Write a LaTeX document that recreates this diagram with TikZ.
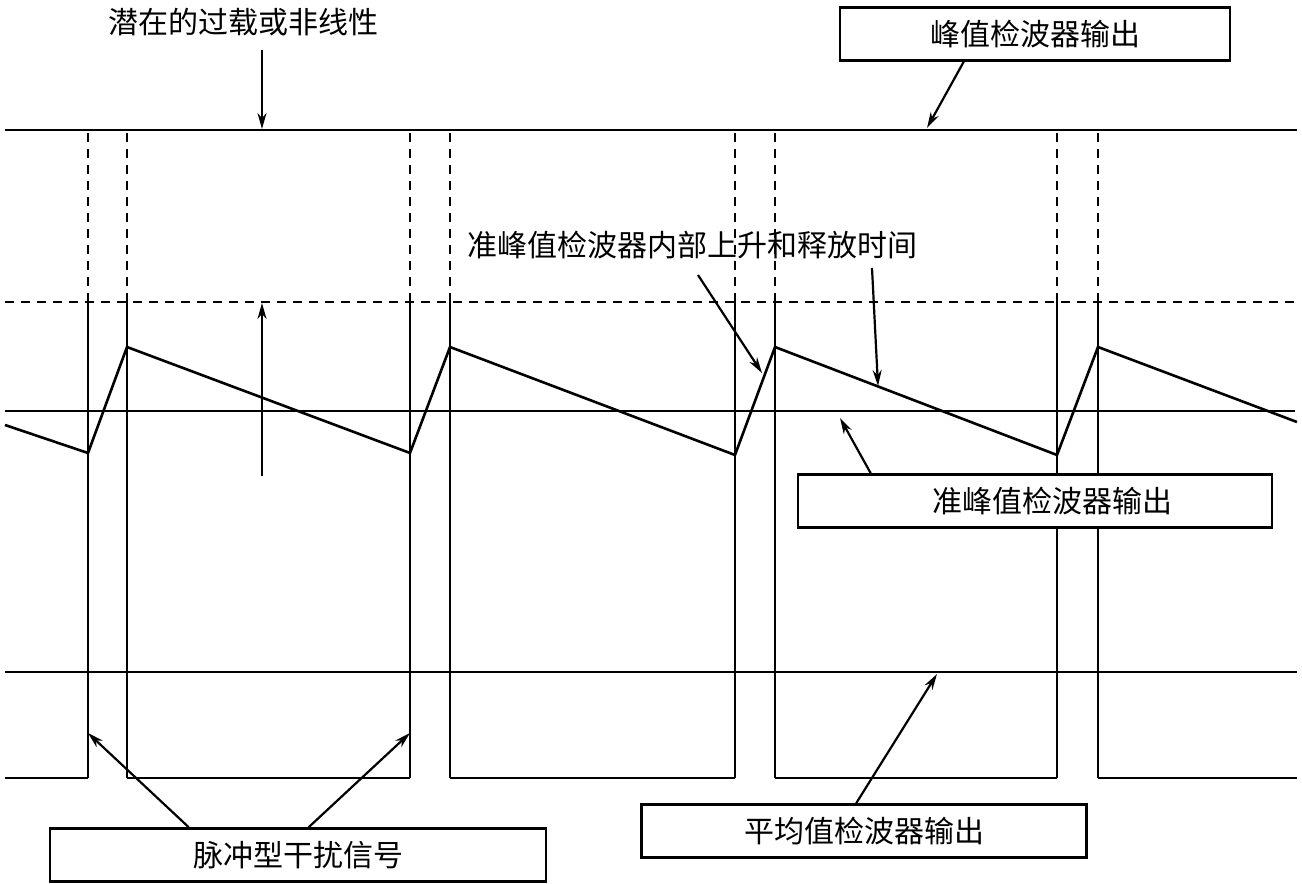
\documentclass[tikz,border=0pt]{standalone}
\usepackage{fontspec}
\setmainfont{Noto Sans CJK SC}
\usetikzlibrary{arrows.meta}

\tikzset{
  sig/.style={line width=2.6pt, line join=miter},
  guide/.style={line width=2.6pt, dash pattern=on 9pt off 7pt},
  callout/.style={line width=2.2pt, -{Stealth[length=16pt,width=9pt]}},
  labelbox/.style={draw, line width=2.6pt, fill=white, inner sep=0pt,
    minimum height=53pt, font=\fontsize{30}{34}\selectfont},
  labeltext/.style={inner sep=0pt, font=\fontsize{30}{34}\selectfont}
}

\begin{document}
\begin{tikzpicture}[x=1pt, y=-1pt]

    \useasboundingbox (0,0) rectangle (1302,884);

    % Levels
    \def\Ltop{130}   % peak detector output
    \def\Lpulse{302} % pulse top
    \def\Lqp{411}    % quasi-peak output
    \def\Lavg{672}   % average output
    \def\Lbase{778}  % pulse baseline

    % Horizontal levels
    \draw[sig]   (5,\Ltop) -- (1297,\Ltop);
    \draw[guide] (5,\Lpulse) -- (1297,\Lpulse);
    \draw[sig]   (5,\Lqp) -- (1295,\Lqp);
    \draw[sig]   (5,\Lavg) -- (1297,\Lavg);

    % Pulse train: baseline pieces
    \draw[sig] (5,\Lbase) -- (88,\Lbase);
    \draw[sig] (127,\Lbase) -- (410,\Lbase);
    \draw[sig] (450,\Lbase) -- (735,\Lbase);
    \draw[sig] (775,\Lbase) -- (1057,\Lbase);
    \draw[sig] (1098,\Lbase) -- (1297,\Lbase);

    % Pulse edges, dashed above the pulse top
    \foreach \a/\b in {88/127, 410/450, 735/775, 1057/1098} {
        \draw[sig]   (\a,\Lbase) -- (\a,\Lpulse);
        \draw[sig]   (\b,\Lbase) -- (\b,\Lpulse);
        \draw[guide] (\a,\Lpulse) -- (\a,\Ltop);
        \draw[guide] (\b,\Lpulse) -- (\b,\Ltop);
    }

    % Quasi-peak charge / discharge
    \draw[sig] (5,425) -- (88,453) -- (127,347) -- (410,453) -- (450,347)
        -- (735,455) -- (775,347) -- (1057,455) -- (1098,347) -- (1297,422);

    % Labels
    \node[labeltext] (overload) at (243,22) {潜在的过载或非线性};
    \node[labeltext] (risefall) at (692,245) {准峰值检波器内部上升和释放时间};
    \node[labelbox, minimum width=390pt] (peakbox)  at (1035,34)  {峰值检波器输出};
    \node[labelbox, minimum width=474pt] (qpbox)    at (1035,501) {\hspace*{34pt}准峰值检波器输出};
    \node[labelbox, minimum width=445pt] (avgbox)   at (864,831)  {平均值检波器输出};
    \node[labelbox, minimum width=496pt] (pulsebox) at (298,855)  {脉冲型干扰信号};

    % Arrow ends
    \coordinate (ovStart)   at (262,50);
    \coordinate (ovTip)     at (262,129);
    \coordinate (headBase)  at (262,476);
    \coordinate (headTip)   at (262,303);
    \coordinate (riseStart) at (698,275);
    \coordinate (riseTip)   at (762,373);
    \coordinate (fallStart) at (872,268);
    \coordinate (fallTip)   at (878,386);

    % Callouts
    \draw[callout] (ovStart) -- (ovTip);
    \draw[callout] (headBase) -- (headTip);
    \draw[callout] (riseStart) -- (riseTip);
    \draw[callout] (fallStart) -- (fallTip);
    \draw[callout] ([xshift=125pt]peakbox.south west) -- (927,128);
    \draw[callout] ([xshift=74pt]qpbox.north west) -- (840,418);
    \draw[callout] ([xshift=216pt]avgbox.north west) -- (937,674);
    \draw[callout] ([xshift=140pt]pulsebox.north west) -- (88,733);
    \draw[callout] ([xshift=260pt]pulsebox.north west) -- (410,733);

\end{tikzpicture}
\end{document}
